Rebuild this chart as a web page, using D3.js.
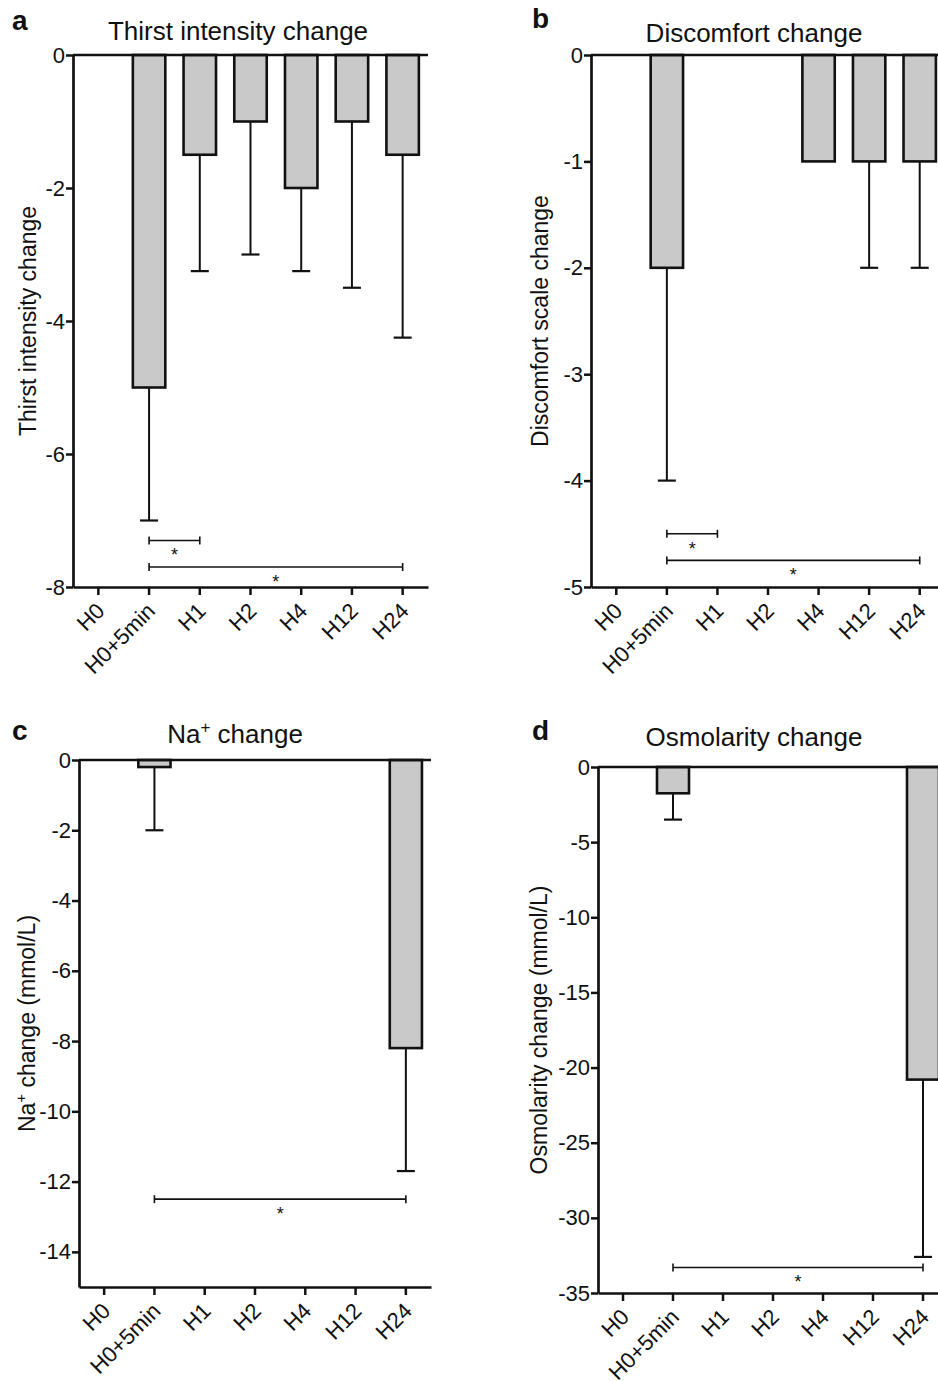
<!DOCTYPE html>
<html>
<head>
<meta charset="utf-8">
<script src="https://cdn.jsdelivr.net/npm/d3@7"></script>
<style>
  body { margin: 0; background: #fff; }
  svg { display: block; font-family: "Liberation Sans", Arial, sans-serif; }
</style>
</head>
<body>
<svg id="chart"></svg>
<script>
const CATEGORIES = ['H0', 'H0+5min', 'H1', 'H2', 'H4', 'H12', 'H24'];

// a: thirst intensity (mean, lower end of error bar)
const THIRST_MEAN = [0, -5, -1.5, -1, -2, -1, -1.5];
const THIRST_ERR = [null, -7, -3.25, -3, -3.25, -3.5, -4.25];
const THIRST_TICKS = [0, -2, -4, -6, -8];
const THIRST_SIG = [['H0+5min', 'H1', -7.3], ['H0+5min', 'H24', -7.7]];

// b: discomfort
const DISCOMFORT_MEAN = [0, -2, 0, 0, -1, -1, -1];
const DISCOMFORT_ERR = [null, -4, null, null, null, -2, -2];
const DISCOMFORT_TICKS = [0, -1, -2, -3, -4, -5];
const DISCOMFORT_SIG = [['H0+5min', 'H1', -4.5], ['H0+5min', 'H24', -4.75]];

// c: Na+
const NA_MEAN = [0, -0.2, 0, 0, 0, 0, -8.2];
const NA_ERR = [null, -2, null, null, null, null, -11.7];
const NA_TICKS = [0, -2, -4, -6, -8, -10, -12, -14];
const NA_SIG = [['H0+5min', 'H24', -12.5]];

// d: osmolarity
const OSM_MEAN = [0, -1.75, 0, 0, 0, 0, -20.8];
const OSM_ERR = [null, -3.5, null, null, null, null, -32.6];
const OSM_TICKS = [0, -5, -10, -15, -20, -25, -30, -35];
const OSM_SIG = [['H0+5min', 'H24', -33.3]];

const panels = [
  { letter: 'a', title: ['Thirst intensity change'], ylabel: ['Thirst intensity change'],
    mean: THIRST_MEAN, err: THIRST_ERR, ticks: THIRST_TICKS, sig: THIRST_SIG, yMin: -8,
    left: 73, right: 428, top: 55, bottom: 587, letterX: 12, letterY: 30, titleX: 238, titleY: 40, labelOff: 37 },
  { letter: 'b', title: ['Discomfort change'], ylabel: ['Discomfort scale change'],
    mean: DISCOMFORT_MEAN, err: DISCOMFORT_ERR, ticks: DISCOMFORT_TICKS, sig: DISCOMFORT_SIG, yMin: -5,
    left: 591, right: 945, top: 55, bottom: 587, letterX: 532, letterY: 28, titleX: 754, titleY: 42, labelOff: 43 },
  { letter: 'c', title: ['Na', '+', ' change'], ylabel: ['Na', '+', ' change (mmol/L)'],
    mean: NA_MEAN, err: NA_ERR, ticks: NA_TICKS, sig: NA_SIG, yMin: -15,
    left: 79, right: 431, top: 760, bottom: 1287, letterX: 12, letterY: 740, titleX: 235, titleY: 743, labelOff: 44 },
  { letter: 'd', title: ['Osmolarity change'], ylabel: ['Osmolarity change (mmol/L)'],
    mean: OSM_MEAN, err: OSM_ERR, ticks: OSM_TICKS, sig: OSM_SIG, yMin: -35,
    left: 598, right: 948, top: 767, bottom: 1293, letterX: 532, letterY: 740, titleX: 754, titleY: 746, labelOff: 51 }
];

const svg = d3.select('#chart').attr('width', 938).attr('height', 1381);

// text with optional superscript: parts = [before, sup, after]
function richText(sel, parts, size) {
  sel.append('tspan').text(parts[0]);
  if (parts.length > 1) {
    const s = Math.round(size * 0.65);
    sel.append('tspan').attr('font-size', s).attr('dy', -size * 0.38).text(parts[1]);
    sel.append('tspan').attr('dy', size * 0.38).text(parts[2]);
  }
}

function drawPanel(p) {
  const g = svg.append('g');

  const x = d3.scaleBand().domain(CATEGORIES).range([p.left, p.right])
    .paddingInner(0.36).paddingOuter(0.18);
  const y = d3.scaleLinear().domain([p.yMin, 0]).range([p.bottom, p.top]);
  const cx = c => x(c) + x.bandwidth() / 2;

  const data = CATEGORIES.map((c, i) => ({ cat: c, mean: p.mean[i], err: p.err[i] }));

  // error bars (behind the bars)
  const withErr = data.filter(d => d.err != null);
  g.selectAll('line.err').data(withErr).enter().append('line')
    .attr('x1', d => cx(d.cat)).attr('x2', d => cx(d.cat))
    .attr('y1', d => y(d.mean)).attr('y2', d => y(d.err))
    .attr('stroke', '#111').attr('stroke-width', 2);
  g.selectAll('line.cap').data(withErr).enter().append('line')
    .attr('x1', d => cx(d.cat) - 9).attr('x2', d => cx(d.cat) + 9)
    .attr('y1', d => y(d.err)).attr('y2', d => y(d.err))
    .attr('stroke', '#111').attr('stroke-width', 2.2);

  // bars
  g.selectAll('rect.bar').data(data.filter(d => d.mean !== 0)).enter().append('rect')
    .attr('x', d => x(d.cat))
    .attr('y', y(0))
    .attr('width', x.bandwidth())
    .attr('height', d => y(d.mean) - y(0))
    .attr('fill', '#c9c9c9')
    .attr('stroke', '#111')
    .attr('stroke-width', 2.6);

  // zero line
  g.append('line')
    .attr('x1', p.left).attr('x2', p.right)
    .attr('y1', y(0)).attr('y2', y(0))
    .attr('stroke', '#111').attr('stroke-width', 2.7);

  // significance brackets
  p.sig.forEach(s => {
    const x1 = cx(s[0]), x2 = cx(s[1]), yy = y(s[2]);
    const b = g.append('g').attr('stroke', '#111').attr('stroke-width', 1.6);
    b.append('line').attr('x1', x1).attr('x2', x2).attr('y1', yy).attr('y2', yy);
    b.append('line').attr('x1', x1).attr('x2', x1).attr('y1', yy - 4).attr('y2', yy + 4);
    b.append('line').attr('x1', x2).attr('x2', x2).attr('y1', yy - 4).attr('y2', yy + 4);
    g.append('text')
      .attr('x', (x1 + x2) / 2).attr('y', yy + 21)
      .attr('text-anchor', 'middle')
      .attr('font-size', 18).attr('fill', '#111')
      .text('*');
  });

  // y axis
  const yAxis = g.append('g')
    .attr('transform', `translate(${p.left},0)`)
    .call(d3.axisLeft(y).tickValues(p.ticks).tickSize(7).tickSizeOuter(0).tickPadding(1)
      .tickFormat(d => String(d)));

  // x axis
  const xAxis = g.append('g')
    .attr('transform', `translate(0,${p.bottom})`)
    .call(d3.axisBottom(x).tickSize(8).tickSizeOuter(0));
  xAxis.selectAll('text')
    .attr('text-anchor', 'end')
    .attr('dy', '0.35em')
    .attr('x', 0).attr('y', 0)
    .attr('transform', 'translate(2,20) rotate(-45)');

  [yAxis, xAxis].forEach(ax => {
    ax.select('.domain').attr('stroke', '#111').attr('stroke-width', 2.7);
    ax.selectAll('.tick line').attr('stroke', '#111').attr('stroke-width', 2.5);
    ax.selectAll('.tick text').attr('font-size', 22).attr('fill', '#111')
      .attr('font-family', '"Liberation Sans", Arial, sans-serif');
  });

  // y label
  const yl = g.append('text')
    .attr('transform', `translate(${p.left - p.labelOff},${(p.top + p.bottom) / 2}) rotate(-90)`)
    .attr('text-anchor', 'middle')
    .attr('font-size', 23).attr('fill', '#111');
  richText(yl, p.ylabel, 23);

  // title
  const t = g.append('text')
    .attr('x', p.titleX).attr('y', p.titleY)
    .attr('text-anchor', 'middle')
    .attr('font-size', 26).attr('fill', '#111');
  richText(t, p.title, 26);

  // panel letter
  g.append('text')
    .attr('x', p.letterX).attr('y', p.letterY)
    .attr('font-size', 28).attr('font-weight', 'bold').attr('fill', '#111')
    .text(p.letter);
}

panels.forEach(drawPanel);
</script>
</body>
</html>
